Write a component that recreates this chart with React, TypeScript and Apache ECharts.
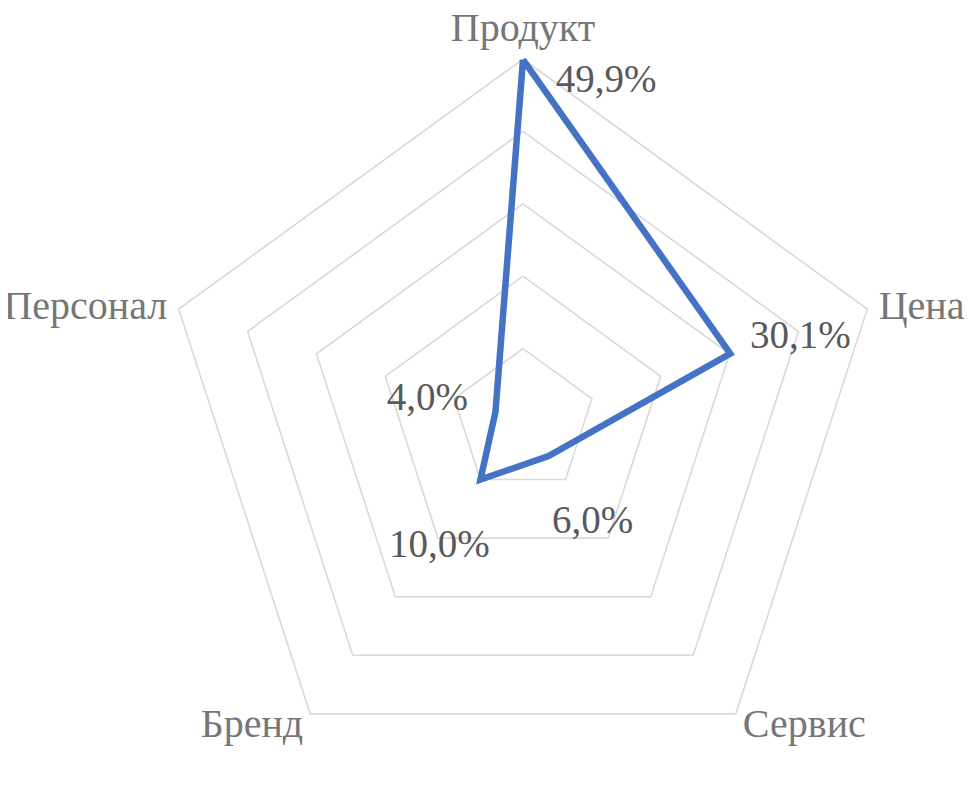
import React, { useEffect, useRef } from "react";
import * as echarts from "echarts";

// Categories listed clockwise from the top, as in the reference
const categories = ["Продукт", "Цена", "Сервис", "Бренд", "Персонал"];
const values = [49.9, 30.1, 6.0, 10.0, 4.0];
const axisMax = 50;

const labelOffsets: [number, number][] = [
  [83, 19],
  [70, -19],
  [44, 63],
  [-41, 64],
  [-68, -16],
];

const FONT = '"Liberation Serif", "Times New Roman", serif';
const fmt = (v: number) => v.toFixed(1).replace(".", ",") + "%";

// ECharts lays radar indicators out counter-clockwise; reorder to draw clockwise
const order = [0, ...categories.map((_, i) => i).slice(1).reverse()];
const radarNames = order.map((i) => categories[i]);
const radarValues = order.map((i) => values[i]);

export default function App() {
  const ref = useRef<HTMLDivElement>(null);
  useEffect(() => {
    if (!ref.current) return;
    const chart = echarts.init(ref.current, undefined, { renderer: "svg" });
    chart.setOption({
      animation: false,
      backgroundColor: "#ffffff",
      radar: {
        center: [523, 421],
        radius: 362,
        startAngle: 90,
        splitNumber: 5,
        shape: "polygon",
        nameGap: 12,
        indicator: radarNames.map((n) => ({ name: n, min: 0, max: axisMax })),
        axisName: { color: "#767676", fontSize: 40, fontFamily: FONT },
        splitLine: { lineStyle: { color: "#D9D9D9", width: 1.6 } },
        splitArea: { show: false },
        axisLine: { show: false },
        axisTick: { show: false },
        axisLabel: { show: false },
      },
      series: [
        {
          type: "radar",
          symbol: "none",
          lineStyle: { color: "#4472C4", width: 6.5, join: "miter" },
          itemStyle: { color: "#4472C4" },
          data: [{ value: radarValues, name: "Доля" }],
          z: 2,
        },
        {
          type: "radar",
          symbol: "circle",
          symbolSize: 1,
          itemStyle: { color: "transparent" },
          lineStyle: { width: 0, color: "transparent" },
          silent: true,
          z: 3,
          label: {
            show: true,
            position: "inside",
            fontSize: 39,
            fontFamily: FONT,
            color: "#595959",
            formatter: (p: any) => {
              const v = Array.isArray(p.value) ? null : p.value;
              return v === values[p.dataIndex] ? fmt(v) : "";
            },
          },
          data: values.map((_, i) => ({
            value: radarValues,
            name: categories[i],
            label: { offset: labelOffsets[i] },
          })),
        },
      ],
    });
    return () => chart.dispose();
  }, []);
  return <div ref={ref} style={{ width: 980, height: 789, margin: -8 }} />;
}
